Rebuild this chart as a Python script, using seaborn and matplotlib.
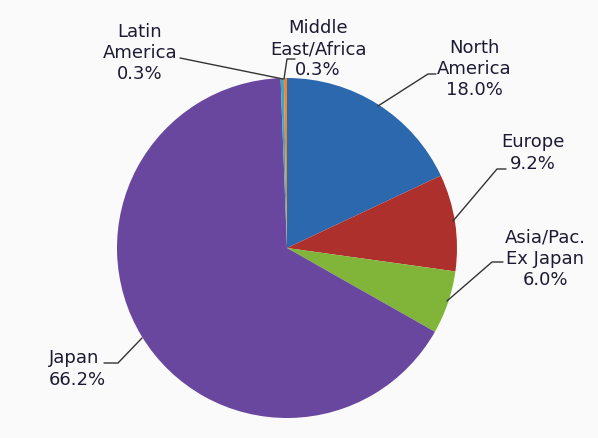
import matplotlib
matplotlib.use("Agg")
import matplotlib.pyplot as plt
import seaborn as sns

sns.set_theme(style="white")
plt.rcParams['font.family'] = ['DejaVu Sans']

# data, clockwise from 12 o'clock
regions = ["North\nAmerica", "Europe", "Asia/Pac.\nEx Japan", "Japan", "Latin\nAmerica", "Middle\nEast/Africa"]
shares = [18.0, 9.2, 6.0, 66.2, 0.3, 0.3]
colors = ["#2c68ae", "#ae302c", "#80b53a", "#6a479e", "#3aa6c8", "#f0862a"]

W, H = 598, 439
cx, cy, r = 287, 249, 170   # pie centre / radius in pixels

fig = plt.figure(figsize=(W / 100, H / 100), dpi=100)
fig.patch.set_facecolor("#fafafa")
ax = fig.add_axes([(cx - r) / W, (H - cy - r) / H, 2 * r / W, 2 * r / H])

wedges, _ = ax.pie(shares, colors=colors, startangle=90, counterclock=False,
                   radius=1.0, wedgeprops=dict(linewidth=0))
ax.set_xlim(-1, 1)
ax.set_ylim(-1, 1)
ax.set_aspect("equal")
ax.axis("off")


def px(x, y):
    # pixel coords -> data coords
    return (x - cx) / r, (cy - y) / r


# label text anchor, leader points (pixel coords)
label_pos = [(474, 69), (533, 153), (545, 259), (49, 369), (140, 53), (318, 49)]
leaders = [
    [(436, 75), (428, 75), (378, 107)],
    [(506, 170), (497, 170), (453, 222)],
    [(503, 263), (492, 263), (447, 302)],
    [(104, 364), (118, 364), (142, 339)],
    [(180, 59), (283, 80)],
    [(295, 60), (287, 60), (284, 80)],
]

for name, val, (tx, ty), pts in zip(regions, shares, label_pos, leaders):
    ha = "left" if name == "Japan" else "center"
    x, y = px(tx, ty)
    ax.text(x, y, f"{name}\n{val:.1f}%", ha=ha, va="center", fontsize=13,
            color="#1d1b33", linespacing=1.22, clip_on=False)
    xs, ys = zip(*[px(a, b) for a, b in pts])
    ax.plot(xs, ys, color="#333333", lw=1.0, clip_on=False)

fig.savefig("out.png", dpi=100, facecolor=fig.get_facecolor())
